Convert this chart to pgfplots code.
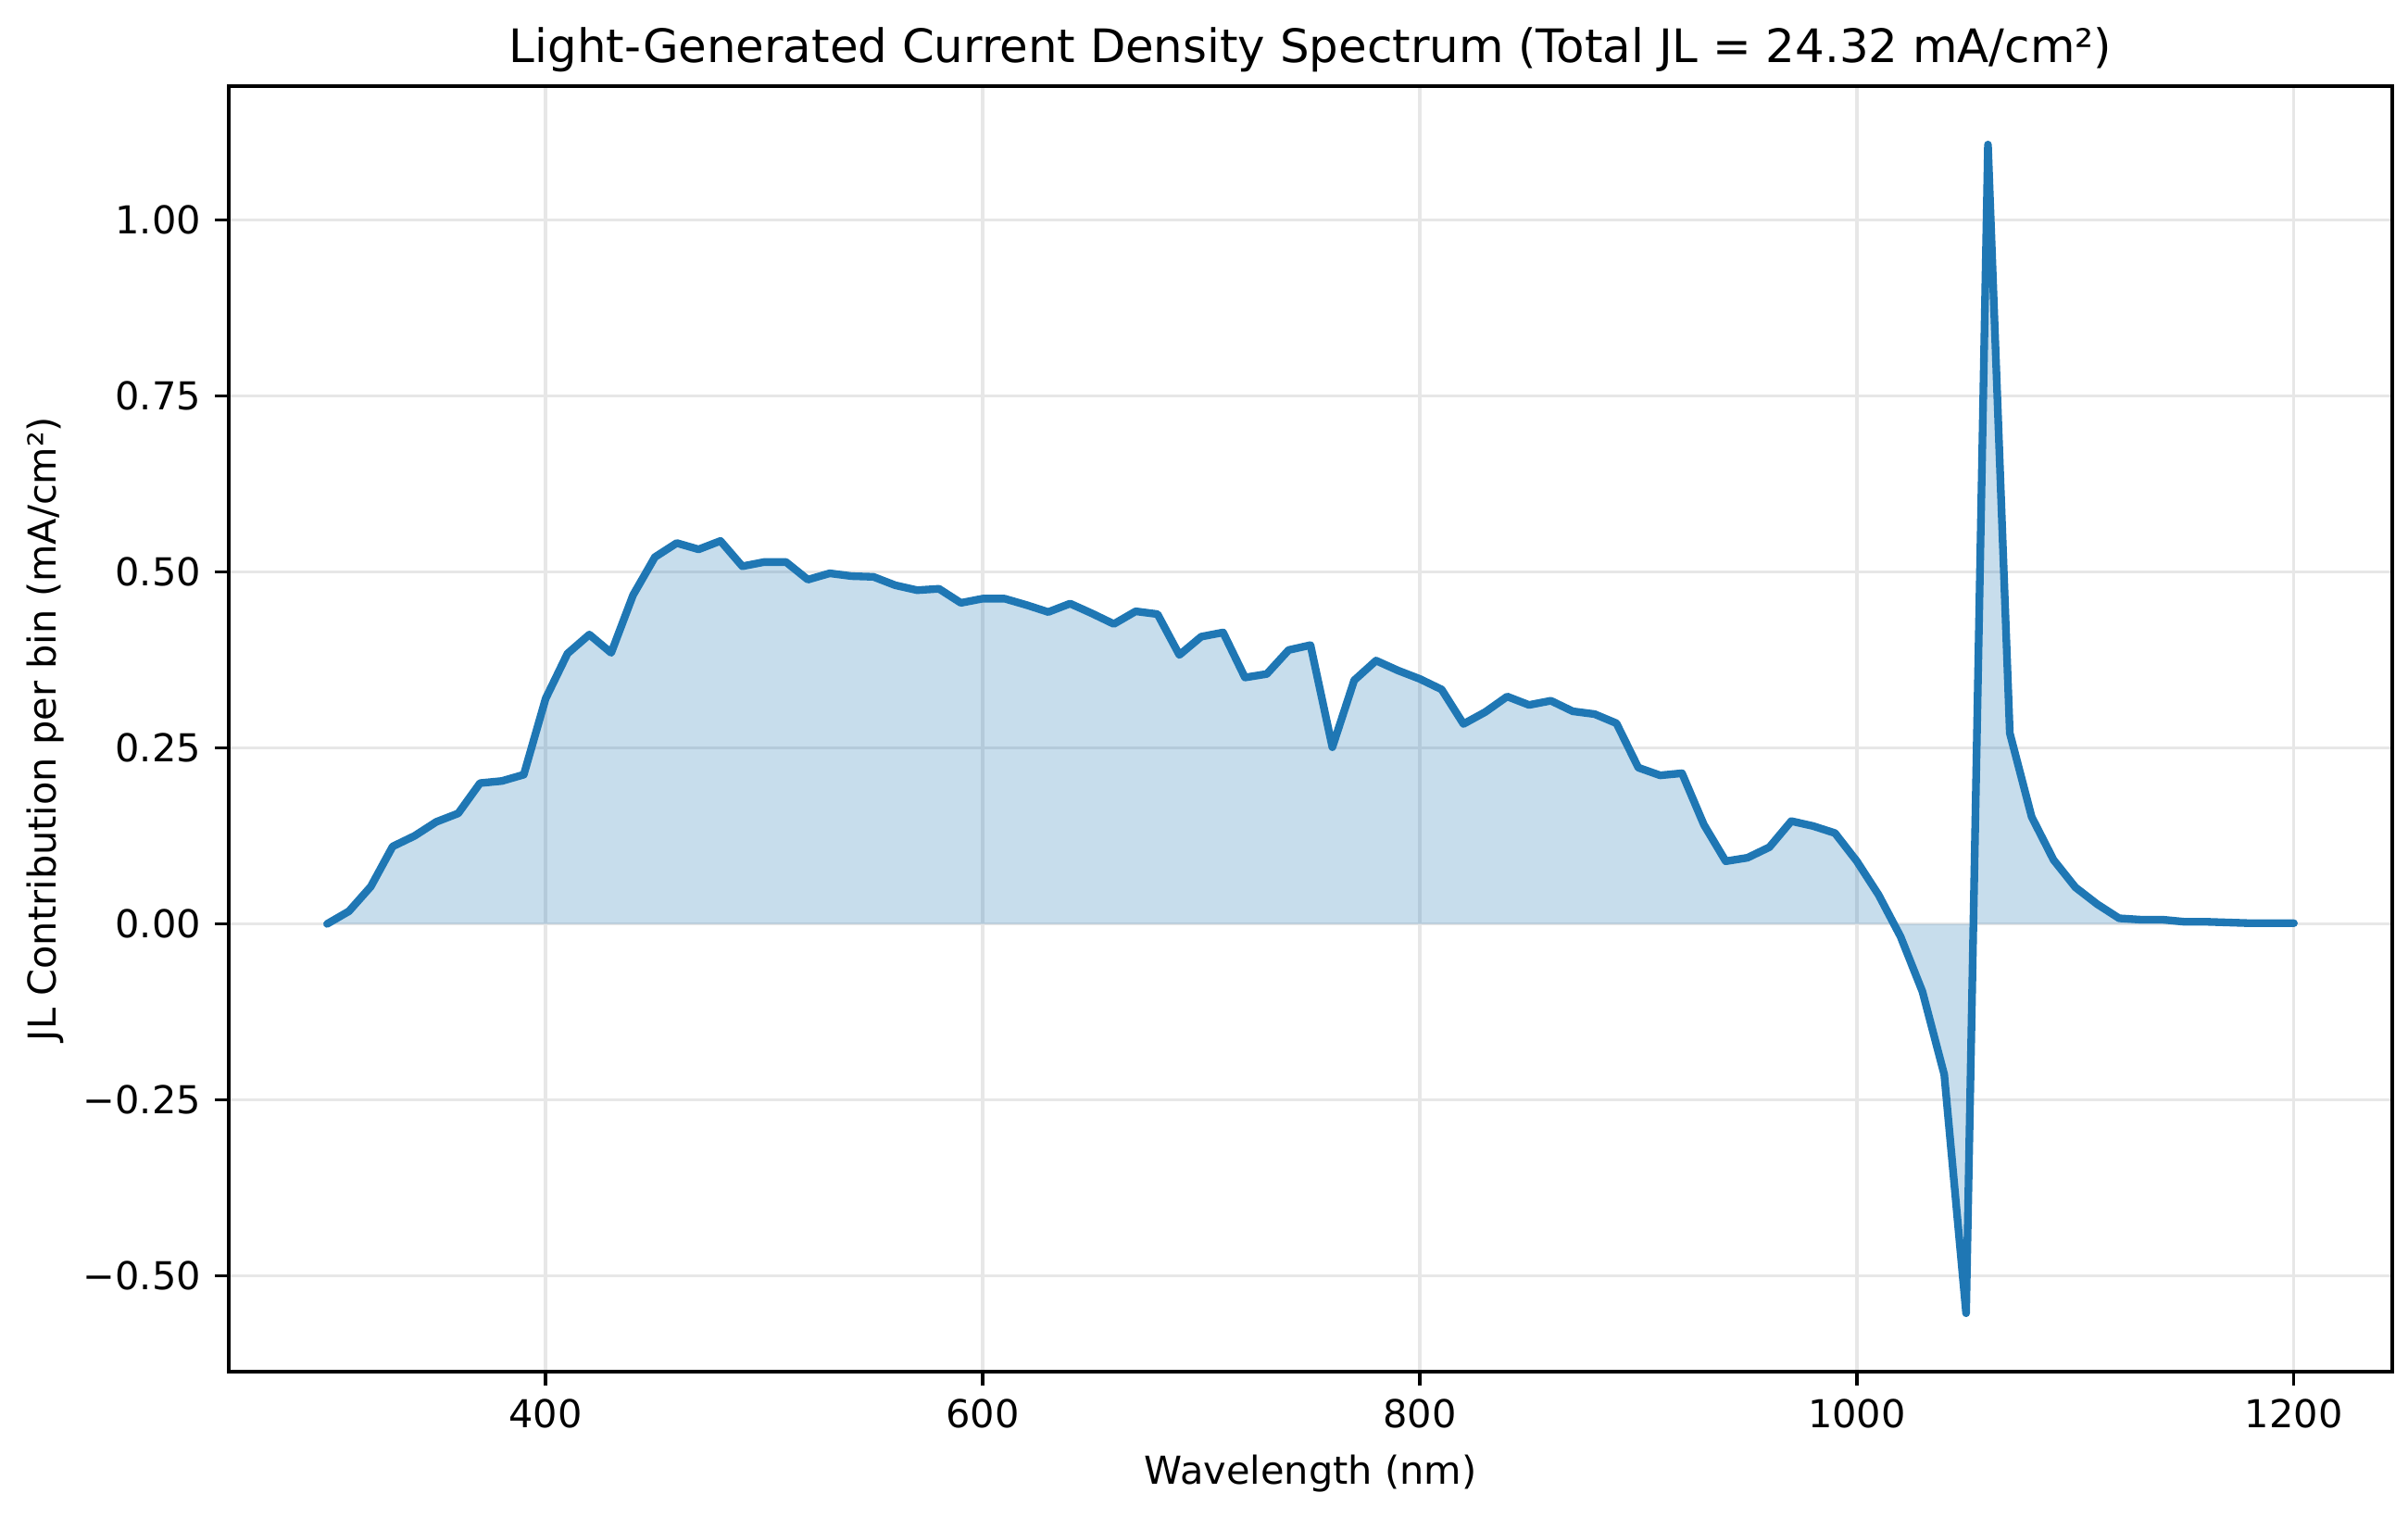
\documentclass[border=0pt]{standalone}
\usepackage{fontspec}
\setmainfont{DejaVu Sans}
\usepackage{pgfplots}
\pgfplotsset{compat=1.18}
\usepackage{pgfplotstable}
\definecolor{mblue}{RGB}{31,119,180}
\definecolor{gridc}{RGB}{231,231,231}
\pgfplotstableread{
x y
300 0.000
310 0.018
320 0.053
330 0.110
340 0.125
350 0.145
360 0.157
370 0.200
380 0.203
390 0.212
400 0.320
410 0.384
420 0.411
430 0.385
440 0.467
450 0.521
460 0.541
470 0.532
480 0.544
490 0.508
500 0.514
510 0.514
520 0.489
530 0.498
540 0.494
550 0.493
560 0.481
570 0.474
580 0.476
590 0.456
600 0.462
610 0.462
620 0.453
630 0.443
640 0.455
650 0.441
660 0.426
670 0.444
680 0.440
690 0.382
700 0.408
710 0.414
720 0.350
730 0.355
740 0.389
750 0.396
760 0.251
770 0.346
780 0.374
790 0.360
800 0.348
810 0.333
820 0.284
830 0.301
840 0.323
850 0.311
860 0.317
870 0.302
880 0.298
890 0.285
900 0.222
910 0.211
920 0.214
930 0.141
940 0.089
950 0.094
960 0.109
970 0.146
980 0.139
990 0.129
1000 0.089
1010 0.041
1020 -0.018
1030 -0.096
1040 -0.214
1050 -0.553
1060 1.107
1070 0.271
1080 0.152
1090 0.091
1100 0.052
1110 0.028
1120 0.008
1130 0.006
1140 0.006
1150 0.003
1160 0.003
1170 0.002
1180 0.001
1190 0.001
1200 0.001
}\jldata
\begin{document}
\begin{tikzpicture}
\begin{axis}[
  at={(0,0)}, anchor=south west,
  scale only axis, width=560.64bp, height=333.12bp,
  xmin=255, xmax=1245, ymin=-0.636, ymax=1.190,
  xtick={400,600,800,1000,1200},
  xticklabels={400,600,800,1000,1200},
  ytick={-0.5,-0.25,0,0.25,0.5,0.75,1},
  yticklabels={−0.50,−0.25,0.00,0.25,0.50,0.75,1.00},
  tick pos=left, tick align=outside, major tick length=3.5bp,
  every tick/.style={black, line width=0.8bp},
  axis line style={line width=0.8bp, black},
  grid=major, major grid style={line width=0.8bp, draw=gridc},
  tick label style={font=\fontsize{10}{12}\selectfont, inner sep=0pt},
  xticklabel shift=3.5bp, yticklabel shift=3.5bp,
  xlabel={Wavelength (nm)},
  ylabel={JL Contribution per bin (mA/cm²)},
  every axis x label/.style={at={(axis description cs:0.5,-0.0793)}, anchor=center, inner sep=0pt, font=\fontsize{10}{12}\selectfont},
  every axis y label/.style={at={(axis description cs:-0.0847,0.5)}, rotate=90, anchor=center, inner sep=0pt, font=\fontsize{10}{12}\selectfont},
  title={Light-Generated Current Density Spectrum (Total JL = 24.32 mA/cm²)},
  every axis title/.style={at={(axis description cs:0.5,1.0285)}, anchor=center, inner sep=0pt, font=\fontsize{12}{14.4}\selectfont},
]
\addplot[draw=none, fill=mblue, fill opacity=0.25] table[x=x,y=y] {\jldata} \closedcycle;
\addplot[mblue, line width=2bp, line join=round, line cap=round] table[x=x,y=y] {\jldata};
\end{axis}
\pgfresetboundingbox
\path[use as bounding box] (-59.28bp,-37.68bp) rectangle (564.72bp,355.44bp);
\end{tikzpicture}
\end{document}
